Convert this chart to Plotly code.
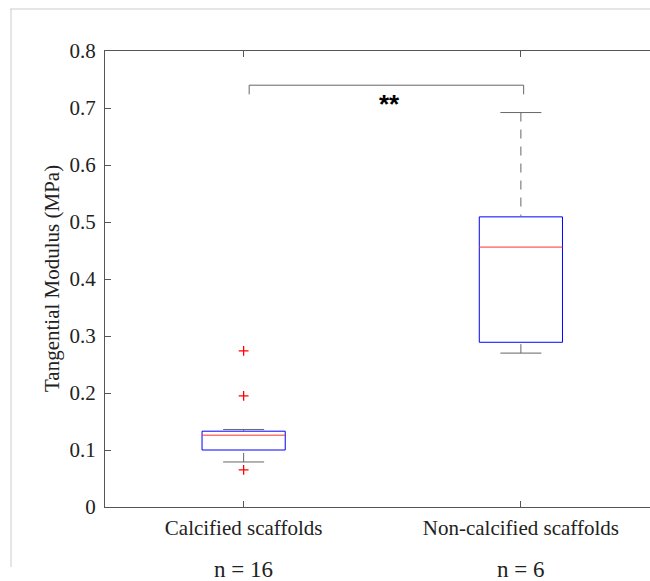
import plotly.graph_objects as go

# ---- data ----
categories = ["Calcified scaffolds", "Non-calcified scaffolds"]
positions = [1, 2]
n_counts = [16, 6]
q1 = [0.100, 0.289]
median = [0.126, 0.456]
q3 = [0.133, 0.509]
whisker_lo = [0.079, 0.270]
whisker_hi = [0.136, 0.692]
outliers = [[0.274, 0.195, 0.065], []]
y_ticks = [0, 0.1, 0.2, 0.3, 0.4, 0.5, 0.6, 0.7, 0.8]
y_tick_labels = ["0", "0.1", "0.2", "0.3", "0.4", "0.5", "0.6", "0.7", "0.8"]
sig_pair = [1.02, 2.01]
sig_level = 0.740
sig_drop = 0.724
sig_label = "**"

# ---- styling ----
BOX_W = 0.30
CAP_HALF = 0.074
SERIF = "Liberation Serif, Times New Roman, serif"
AXIS_COLOR = "#555555"
TEXT_COLOR = "#222222"

fig = go.Figure()

# boxes (blue rectangles)
bx, by = [], []
for i, p in enumerate(positions):
    l, r = p - BOX_W / 2, p + BOX_W / 2
    bx += [l, r, r, l, l, None]
    by += [q1[i], q1[i], q3[i], q3[i], q1[i], None]
fig.add_trace(go.Scatter(x=bx, y=by, mode="lines",
                         line=dict(color="#0000ff", width=1),
                         showlegend=False, hoverinfo="skip"))

# whiskers (dashed)
wx, wy = [], []
for i, p in enumerate(positions):
    wx += [p, p, None, p, p, None]
    wy += [whisker_hi[i], q3[i], None, whisker_lo[i], q1[i], None]
fig.add_trace(go.Scatter(x=wx, y=wy, mode="lines",
                         line=dict(color="#666666", width=1, dash="9px,8px"),
                         showlegend=False, hoverinfo="skip"))

# whisker caps
cx, cy = [], []
for i, p in enumerate(positions):
    cx += [p - CAP_HALF, p + CAP_HALF, None, p - CAP_HALF, p + CAP_HALF, None]
    cy += [whisker_hi[i], whisker_hi[i], None, whisker_lo[i], whisker_lo[i], None]
fig.add_trace(go.Scatter(x=cx, y=cy, mode="lines",
                         line=dict(color="#666666", width=1),
                         showlegend=False, hoverinfo="skip"))

# medians (red)
mx, my = [], []
for i, p in enumerate(positions):
    mx += [p - BOX_W / 2, p + BOX_W / 2, None]
    my += [median[i], median[i], None]
fig.add_trace(go.Scatter(x=mx, y=my, mode="lines",
                         line=dict(color="#ff3030", width=1),
                         showlegend=False, hoverinfo="skip"))

# outliers
ox, oy = [], []
for i, p in enumerate(positions):
    ox += [p] * len(outliers[i])
    oy += outliers[i]
fig.add_trace(go.Scatter(x=ox, y=oy, mode="markers",
                         marker=dict(symbol="cross-thin", size=7,
                                     line=dict(color="#ff0000", width=1.3)),
                         showlegend=False, hoverinfo="skip"))

# significance bracket
fig.add_trace(go.Scatter(
    x=[sig_pair[0], sig_pair[0], sig_pair[1], sig_pair[1]],
    y=[sig_drop, sig_level, sig_level, sig_drop], mode="lines",
    line=dict(color="#666666", width=1), showlegend=False, hoverinfo="skip"))

annotations = [
    dict(x=sum(sig_pair) / 2 + 0.01, y=0.707, xref="x", yref="y", text="<b>" + sig_label + "</b>",
         showarrow=False, xanchor="center", yanchor="middle",
         font=dict(family="Liberation Sans, Arial, sans-serif", size=26, color="#000000")),
    dict(x=(52 - 105) / 545, y=0.5, xref="paper", yref="paper", text="Tangential Modulus (MPa)",
         textangle=-90, showarrow=False, xanchor="center", yanchor="middle",
         font=dict(family=SERIF, size=21, color=TEXT_COLOR)),
]
for p, n in zip(positions, n_counts):
    annotations.append(dict(x=p, y=(507 - 569) / 456, xref="x", yref="paper",
                            text=f"n = {n}", showarrow=False, yanchor="middle",
                            xanchor="center", borderpad=0,
                            font=dict(family=SERIF, size=23, color=TEXT_COLOR)))

# light frame lines of the original figure
shapes = [
    dict(type="line", xref="paper", yref="paper", x0=(10 - 105) / 545, x1=1.0,
         y0=(507 - 9) / 456, y1=(507 - 9) / 456, line=dict(color="#cccccc", width=1)),
    dict(type="line", xref="paper", yref="paper", x0=(11 - 105) / 545, x1=(11 - 105) / 545,
         y0=(507 - 9) / 456, y1=(507 - 567) / 456, line=dict(color="#cccccc", width=1)),
]

fig.update_layout(
    width=650, height=581,
    margin=dict(l=105, r=0, t=51, b=74),
    paper_bgcolor="white", plot_bgcolor="white",
    annotations=annotations, shapes=shapes,
    xaxis=dict(type="linear", range=[0.5, 2 + (650 - 521) / 277],
               tickvals=positions, ticktext=categories,
               ticks="inside", ticklen=6, tickcolor=AXIS_COLOR,
               showline=True, linecolor=AXIS_COLOR, linewidth=1, mirror="allticks",
               showgrid=False, zeroline=False, ticklabelstandoff=2,
               tickfont=dict(family=SERIF, size=21, color=TEXT_COLOR)),
    yaxis=dict(range=[0, 0.8], tickvals=y_ticks, ticktext=y_tick_labels,
               ticks="inside", ticklen=6, tickcolor=AXIS_COLOR,
               showline=True, linecolor=AXIS_COLOR, linewidth=1, mirror=False,
               showgrid=False, zeroline=False, ticklabelstandoff=4,
               tickfont=dict(family=SERIF, size=21, color=TEXT_COLOR)),
)

fig.write_html("out.html")
